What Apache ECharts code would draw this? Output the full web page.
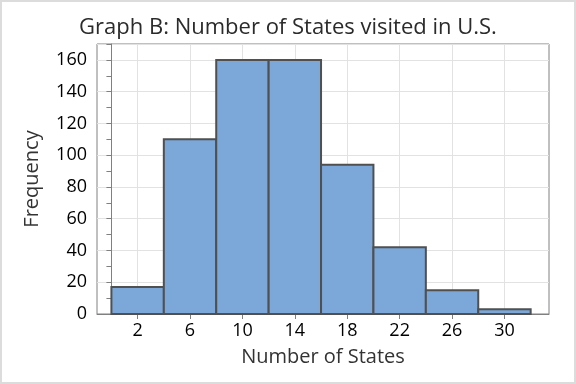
<!DOCTYPE html>
<html><head><meta charset="utf-8">
<script src="https://cdn.jsdelivr.net/npm/echarts@6/dist/echarts.min.js"></script>
<style>html,body{margin:0;padding:0;background:#fff}#c{width:576px;height:384px}</style>
</head><body><div id="c"></div>
<script>
const binStarts = [0, 4, 8, 12, 16, 20, 24, 28];
const binEnds = [4, 8, 12, 16, 20, 24, 28, 32];
const frequencies = [17, 110, 160, 160, 94, 42, 15, 3];
const xTickLabels = [2, 6, 10, 14, 18, 22, 26, 30];
const yTickLabels = [0, 20, 40, 60, 80, 100, 120, 140, 160];

const data = binStarts.map((s, i) => [s, binEnds[i], frequencies[i]]);
const font = '"Open Sans", "Noto Sans", sans-serif';
const chart = echarts.init(document.getElementById('c'), null, {renderer: 'canvas'});
chart.setOption({
  animation: false,
  backgroundColor: '#fff',
  title: {
    text: 'Graph B: Number of States visited in U.S.',
    left: 'center', top: 12,
    textStyle: {fontFamily: font, fontSize: 22, fontWeight: 'normal', color: '#2b2b2b'}
  },
  graphic: [{type: 'rect', shape: {x: 1, y: 1, width: 574, height: 382}, style: {fill: null, stroke: '#dcdcdc', lineWidth: 2}, silent: true, z: 100}],
  grid: {left: 97, right: 27, top: 44, bottom: 70, show: true, borderColor: '#808080', borderWidth: 1, backgroundColor: 'transparent'},
  xAxis: {
    type: 'value', min: -1.1, max: 33.4,
    name: 'Number of States', nameLocation: 'middle', nameGap: 33,
    nameTextStyle: {fontFamily: font, fontSize: 20, color: '#333'},
    axisLine: {show: true, lineStyle: {color: '#808080'}},
    axisTick: {show: true, length: 5, lineStyle: {color: '#808080'}, customValues: xTickLabels},
    axisLabel: {customValues: xTickLabels, fontFamily: font, fontSize: 18, color: '#000', margin: 8},
    splitLine: {show: true, lineStyle: {color: '#e2e2e2'}}
  },
  yAxis: [{
    type: 'value', min: 0, max: 170, interval: 10,
    name: 'Frequency', nameLocation: 'middle', nameGap: 55,
    nameTextStyle: {fontFamily: font, fontSize: 20, color: '#333'},
    axisLine: {show: true, lineStyle: {color: '#808080'}},
    axisTick: {show: true, length: 5, lineStyle: {color: '#808080'}},
    axisLabel: {fontFamily: font, fontSize: 18, color: '#000', margin: 10,
      formatter: v => yTickLabels.indexOf(v) >= 0 ? String(v) : ''},
    splitLine: {show: false}
  }, {
    type: 'value', min: 0, max: 170, interval: 20, position: 'left',
    axisLine: {show: false}, axisTick: {show: false}, axisLabel: {show: false},
    splitLine: {show: true, lineStyle: {color: '#e2e2e2'}}
  }],
  series: [{
    type: 'custom',
    data: data,
    encode: {x: [0, 1], y: 2},
    renderItem: function (params, api) {
      const p0 = api.coord([api.value(0), api.value(2)]);
      const p1 = api.coord([api.value(1), 0]);
      return {
        type: 'rect',
        shape: {x: p0[0], y: p0[1], width: p1[0] - p0[0], height: p1[1] - p0[1]},
        style: {fill: '#7ba7d9', stroke: '#505050', lineWidth: 2}
      };
    }
  }]
});
</script></body></html>
